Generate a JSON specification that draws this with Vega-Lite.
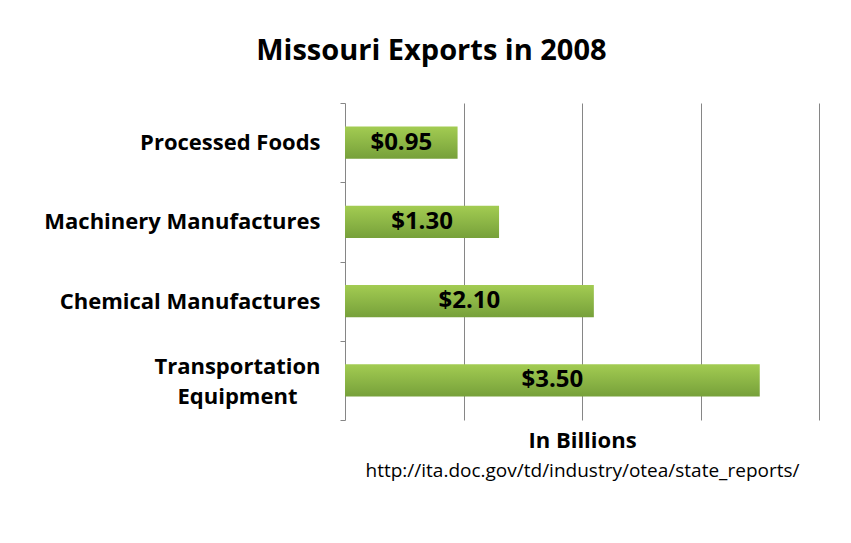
{
  "$schema": "https://vega.github.io/schema/vega-lite/v6.json",
  "width": 474,
  "height": 317,
  "autosize": {"type": "none"},
  "padding": {"left": 345, "top": 103, "right": 32, "bottom": 123},
  "background": "white",
  "title": {
    "text": "Missouri Exports in 2008",
    "font": "Open Sans",
    "fontSize": 29,
    "fontWeight": "bold",
    "color": "black",
    "anchor": "middle",
    "frame": "bounds",
    "offset": 26
  },
  "data": {
    "values": [
      {"category": "Processed Foods", "value": 0.95, "label": "$0.95"},
      {"category": "Machinery Manufactures", "value": 1.3, "label": "$1.30"},
      {"category": "Chemical Manufactures", "value": 2.1, "label": "$2.10"},
      {"category": "Transportation Equipment", "value": 3.5, "label": "$3.50"}
    ]
  },
  "encoding": {
    "y": {
      "field": "category",
      "type": "nominal",
      "sort": null,
      "scale": {"paddingInner": 0, "paddingOuter": 0},
      "axis": {
        "title": null,
        "domainColor": "#868686",
        "tickColor": "#868686",
        "tickSize": 5,
        "tickBand": "extent",
        "labelFont": "Open Sans",
        "labelFontSize": 22,
        "labelFontWeight": "bold",
        "labelColor": "black",
        "labelLimit": 400,
        "labelLineHeight": 30,
        "labelAlign": {"condition": {"test": "datum.value == 'Transportation Equipment'", "value": "center"}, "value": "right"},
        "labelPadding": {"condition": {"test": "datum.value == 'Transportation Equipment'", "value": 103}, "value": 20},
        "labelOffset": {"condition": {"test": "datum.value == 'Transportation Equipment'", "value": -14}, "value": 0},
        "labelExpr": "datum.label == 'Transportation Equipment' ? ['Transportation', 'Equipment'] : datum.label"
      }
    }
  },
  "layer": [
    {
      "mark": {
        "type": "bar",
        "height": {"band": 0.41},
        "color": {
          "gradient": "linear",
          "x1": 0, "y1": 0, "x2": 0, "y2": 1,
          "stops": [
            {"offset": 0, "color": "#a3cc52"},
            {"offset": 1, "color": "#76a03a"}
          ]
        }
      },
      "encoding": {
        "x": {
          "field": "value",
          "type": "quantitative",
          "scale": {"domain": [0, 4], "nice": false},
          "axis": {
            "orient": "bottom",
            "title": "In Billions",
            "titleFont": "Open Sans",
            "titleFontSize": 22,
            "titleFontWeight": "bold",
            "titleColor": "black",
            "titlePadding": 10,
            "labels": false,
            "ticks": false,
            "domain": false,
            "grid": true,
            "gridColor": "#868686",
            "values": [1, 2, 3, 4]
          }
        }
      }
    },
    {
      "mark": {
        "type": "text",
        "font": "Open Sans",
        "fontSize": 24,
        "fontWeight": "bold",
        "color": "black",
        "align": "center",
        "baseline": "middle"
      },
      "encoding": {
        "x": {
          "field": "value",
          "type": "quantitative",
          "scale": {"domain": [0, 8], "nice": false},
          "axis": {
            "orient": "bottom",
            "title": "http://ita.doc.gov/td/industry/otea/state_reports/",
            "titleFont": "Open Sans",
            "titleFontSize": 19,
            "titleFontWeight": "normal",
            "titleColor": "black",
            "titlePadding": 41,
            "labels": false,
            "ticks": false,
            "domain": false,
            "grid": false
          }
        },
        "text": {"field": "label"}
      }
    }
  ],
  "resolve": {"scale": {"x": "independent"}, "axis": {"x": "independent"}},
  "config": {"view": {"stroke": null}}
}
